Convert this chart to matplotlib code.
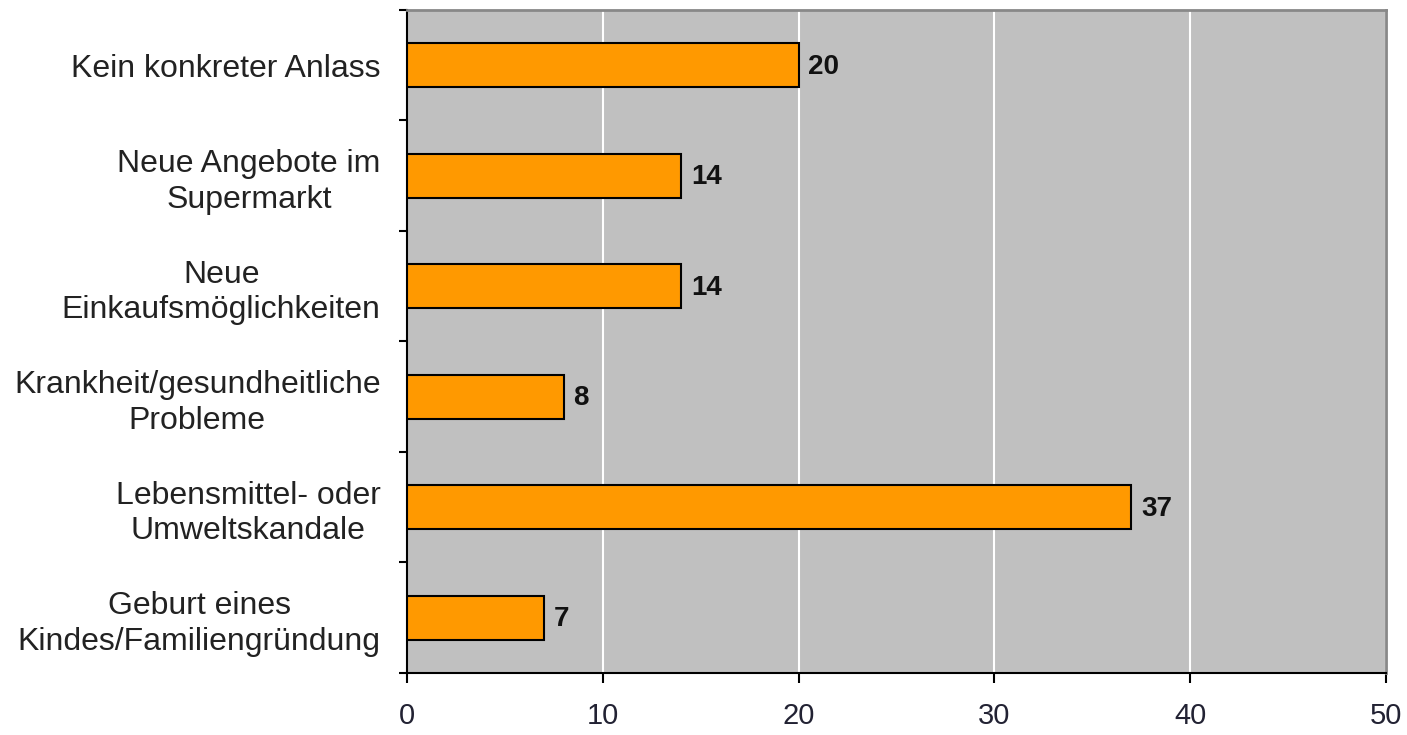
import numpy as np
import matplotlib
matplotlib.use("Agg")
import matplotlib.pyplot as plt

plt.rcParams["font.family"] = ["Liberation Sans", "DejaVu Sans"]

categories = [
    "Kein konkreter Anlass",
    "Neue Angebote im\nSupermarkt",
    "Neue\nEinkaufsmöglichkeiten",
    "Krankheit/gesundheitliche\nProbleme",
    "Lebensmittel- oder\nUmweltskandale",
    "Geburt eines\nKindes/Familiengründung",
]
values = [20, 14, 14, 8, 37, 7]
x_ticks = [0, 10, 20, 30, 40, 50]

fig = plt.figure(figsize=(14.07, 7.35), dpi=100)
ax = fig.add_axes([0.2893, 0.0844, 0.6958, 0.902])
ax.set_facecolor("#C0C0C0")

n = len(categories)
pos = np.arange(n)[::-1]
ax.barh(pos, values, height=0.4, color="#FF9900", edgecolor="black",
        linewidth=1.5, zorder=3)
for p, v in zip(pos, values):
    ax.annotate(f"{v}", (v, p), xytext=(7, -1), textcoords="offset points",
                ha="left", va="center", fontsize=20, fontweight="bold",
                color="#111111", zorder=4)

ax.set_xlim(0, 50)
ax.set_ylim(-0.5, n - 0.5)
ax.set_xticks(x_ticks)
ax.xaxis.grid(True, color="white", linewidth=1.5, zorder=1)
ax.set_axisbelow(True)

ax.set_yticks(pos)
ax.set_yticklabels(categories, fontsize=23, multialignment="center",
                   linespacing=1.25, color="#222222")
ax.tick_params(axis="y", which="major", length=0, pad=19)
ax.set_yticks(np.arange(n + 1) - 0.5, minor=True)
ax.tick_params(axis="y", which="minor", length=6, width=1.5, direction="out")
ax.tick_params(axis="x", length=7, width=1.5, direction="out", labelsize=21,
               pad=14, colors="black", labelcolor="#222233")

for s in ["left", "bottom"]:
    ax.spines[s].set_color("black")
    ax.spines[s].set_linewidth(1.5)
for s in ["top", "right"]:
    ax.spines[s].set_color("#888888")
    ax.spines[s].set_linewidth(2)

fig.savefig("out.png", dpi=100)
